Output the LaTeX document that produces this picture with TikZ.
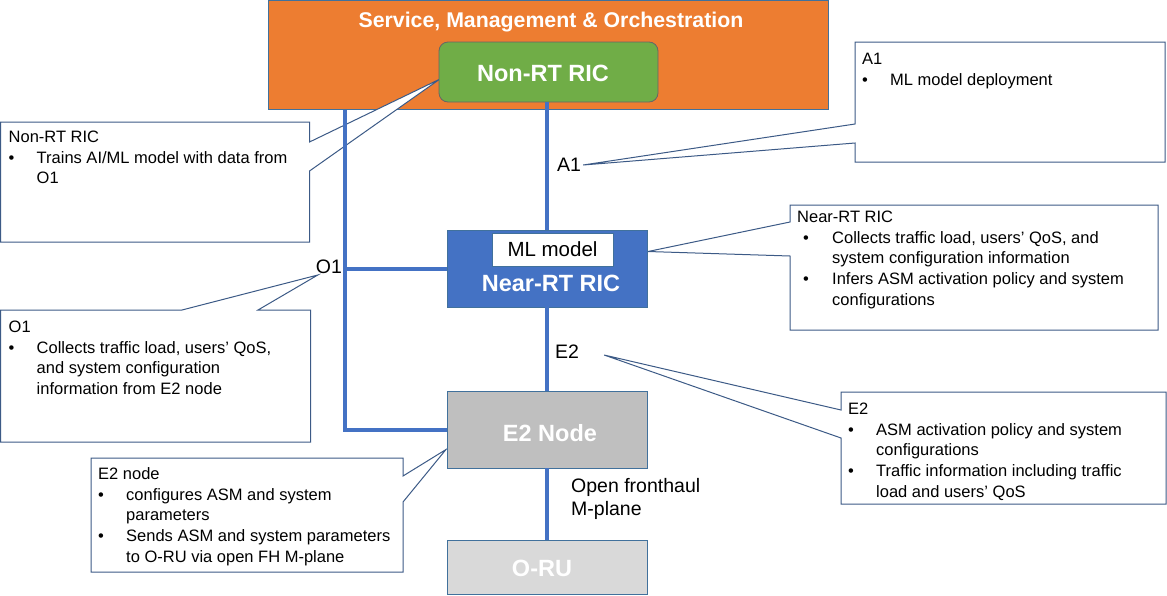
\documentclass[tikz,border=0pt]{standalone}
\usepackage{fontspec}
\setmainfont{Liberation Sans}
\usetikzlibrary{calc}
\pgfdeclarelayer{bg}
\pgfdeclarelayer{mid}
\pgfsetlayers{bg,mid,main}
\definecolor{smoor}{HTML}{ED7D31}
\definecolor{nongreen}{HTML}{70AD47}
\definecolor{nearblue}{HTML}{4472C4}
\definecolor{linkblue}{HTML}{4472C4}
\definecolor{e2gray}{HTML}{BFBFBF}
\definecolor{orugray}{HTML}{D9D9D9}
\definecolor{bordc}{HTML}{41719C}
\definecolor{calloutc}{HTML}{3C5A86}
\newcommand{\bl}{\makebox[28pt][l]{•}}
\newcommand{\ind}{\hspace*{28pt}}
\newcommand{\blw}{\makebox[35pt][l]{\hspace*{6pt}•}}
\newcommand{\indw}{\hspace*{35pt}}
\begin{document}
\begin{tikzpicture}[x=1pt,y=-1pt,
  block/.style={draw=bordc, line width=0.8pt, inner sep=0, outer sep=0},
  boldlab/.style={text=white, font=\bfseries\fontsize{23.5}{28}\selectfont, inner sep=0},
  link/.style={draw=linkblue, line width=4pt},
  iflab/.style={font=\fontsize{19.5}{23}\selectfont, inner sep=0, align=left},
  cbox/.style={draw=none, inner sep=0, outer sep=0},
  coutline/.style={draw=calloutc, line width=1pt, fill=white, line join=miter},
  ctext/.style={font=\fontsize{16.5}{20.8}\selectfont, align=left, inner sep=0, anchor=north west}
]
\useasboundingbox (0,0) rectangle (1167,595);

% ---------- main blocks ----------
\begin{pgfonlayer}{bg}
\node[block, fill=smoor, minimum width=560, minimum height=109, anchor=north west] (smo) at (268,0.5) {};
\node[text=white, font=\bfseries\fontsize{21.3}{25}\selectfont, inner sep=0] (smotitle) at (551,22) {Service, Management \& Orchestration};
\end{pgfonlayer}

\node[block, draw=gray!80!black, fill=nongreen, rounded corners=9pt, minimum width=219, minimum height=60, anchor=north west] (nonrt) at (439,42) {};
\node[boldlab] (nonrtlab) at (543,73) {Non-RT RIC};

\node[block, draw=bordc, fill=nearblue, minimum width=200, minimum height=77, anchor=north west] (nearrt) at (447,230) {};
\node[draw=bordc, line width=0.6pt, fill=white, minimum width=121, minimum height=33, inner sep=0, font=\fontsize{20.5}{24}\selectfont] (ml) at (552.5,249.5) {ML model};
\node[boldlab] (nearlab) at (551,283) {Near-RT RIC};

\node[block, fill=e2gray, minimum width=200, minimum height=77, anchor=north west] (e2) at (447,391) {};
\node[boldlab] (e2lab) at (550,433) {E2 Node};

\node[block, fill=orugray, minimum width=200, minimum height=54, anchor=north west] (oru) at (447,540) {};
\node[boldlab] (orulab) at (542,568) {O-RU};

% ---------- interface labels ----------
\node[iflab] (a1lab) at (569,165) {A1};
\node[iflab] (o1lab) at (329,267) {O1};
\node[iflab] (e2if) at (567,352) {E2};
\node[iflab, anchor=north west] (fhlab) at (571,478) {Open fronthaul\\M-plane};

\coordinate (o1x) at (345,0);
\coordinate (a1tip) at ($(a1lab.east)+(2,0)$);
\coordinate (o1tip) at ($(o1lab.west)+(2,8)$);
\coordinate (e2tip) at ($(e2if.east)+(25,3)$);

% ---------- callouts ----------
\begin{pgfonlayer}{mid}
% Non-RT RIC callout
\node[cbox, minimum width=309, minimum height=120, anchor=north west] (c1) at (0.5,122) {};
\draw[coutline] (c1.north west) -- (c1.north east) -- (c1.north east |- 0,142) -- ($(nonrt.west)+(1,7)$) -- (c1.north east |- 0,171) -- (c1.south east) -- (c1.south west) -- cycle;
\node[ctext] (t1) at ($(c1.north west)+(8,5.5)$) {\strut Non-RT RIC\\\bl Trains AI/ML model with data from\\\ind O1};

% A1 callout
\node[cbox, minimum width=310, minimum height=120, anchor=north west] (c2) at (855,42) {};
\draw[coutline] (c2.north west) -- (c2.north east) -- (c2.south east) -- (c2.south west) -- (c2.south west |- 0,143) -- (a1tip) -- (c2.south west |- 0,124) -- cycle;
\node[ctext] (t2) at ($(c2.north west)+(7,7.5)$) {\strut A1\\\bl ML model deployment};

% Near-RT RIC callout
\node[cbox, minimum width=368, minimum height=125, anchor=north west] (c3) at (790,205) {};
\draw[coutline] (c3.north west) -- (c3.north east) -- (c3.south east) -- (c3.south west) -- (c3.south west |- 0,256) -- ($(nearrt.east)+(1,-17)$) -- (c3.south west |- 0,222) -- cycle;
\node[ctext] (t3) at ($(c3.north west)+(7,2.5)$) {\strut Near-RT RIC\\\blw Collects traffic load, users’ QoS, and\\\indw system configuration information\\\blw Infers ASM activation policy and system\\\indw configurations};

% O1 callout
\node[cbox, minimum width=310, minimum height=132, anchor=north west] (c4) at (0.5,310) {};
\draw[coutline] (c4.north west) -- (c4.north west -| 182,0) -- (o1tip) -- (c4.north west -| 258,0) -- (c4.north east) -- (c4.south east) -- (c4.south west) -- cycle;
\node[ctext] (t4) at ($(c4.north west)+(8,7.5)$) {\strut O1\\\bl Collects traffic load, users’ QoS,\\\ind and system configuration\\\ind information from E2 node};

% E2 callout
\node[cbox, minimum width=325, minimum height=112, anchor=north west] (c5) at (841,392) {};
\draw[coutline] (c5.north west) -- (c5.north east) -- (c5.south east) -- (c5.south west) -- (c5.south west |- 0,438) -- (e2tip) -- (c5.south west |- 0,410) -- cycle;
\node[ctext] (t5) at ($(c5.north west)+(7,7.5)$) {\strut E2\\\bl ASM activation policy and system\\\ind configurations\\\bl Traffic information including traffic\\\ind load and users’ QoS};

% E2 node callout
\node[cbox, minimum width=312, minimum height=114, anchor=north west] (c6) at (91,458) {};
\draw[coutline] (c6.north west) -- (c6.north east) -- (c6.north east |- 0,476) -- ($(e2.west)+(-1,20)$) -- (c6.north east |- 0,502) -- (c6.south east) -- (c6.south west) -- cycle;
\node[ctext] (t6) at ($(c6.north west)+(7,6.5)$) {\strut E2 node\\\bl configures ASM and system\\\ind parameters\\\bl Sends ASM and system parameters\\\ind to O-RU via open FH M-plane};
\end{pgfonlayer}

% ---------- links ----------
\draw[link] (nonrt.south -| nearrt.north) -- (nearrt.north);
\draw[link] (smo.south -| o1x) -- (o1x |- e2.west) -- (e2.west);
\draw[link] (o1x |- nearrt.west) -- (nearrt.west);
\draw[link] (nearrt.south) -- (e2.north);
\draw[link] (e2.south) -- (oru.north);
\end{tikzpicture}
\end{document}
